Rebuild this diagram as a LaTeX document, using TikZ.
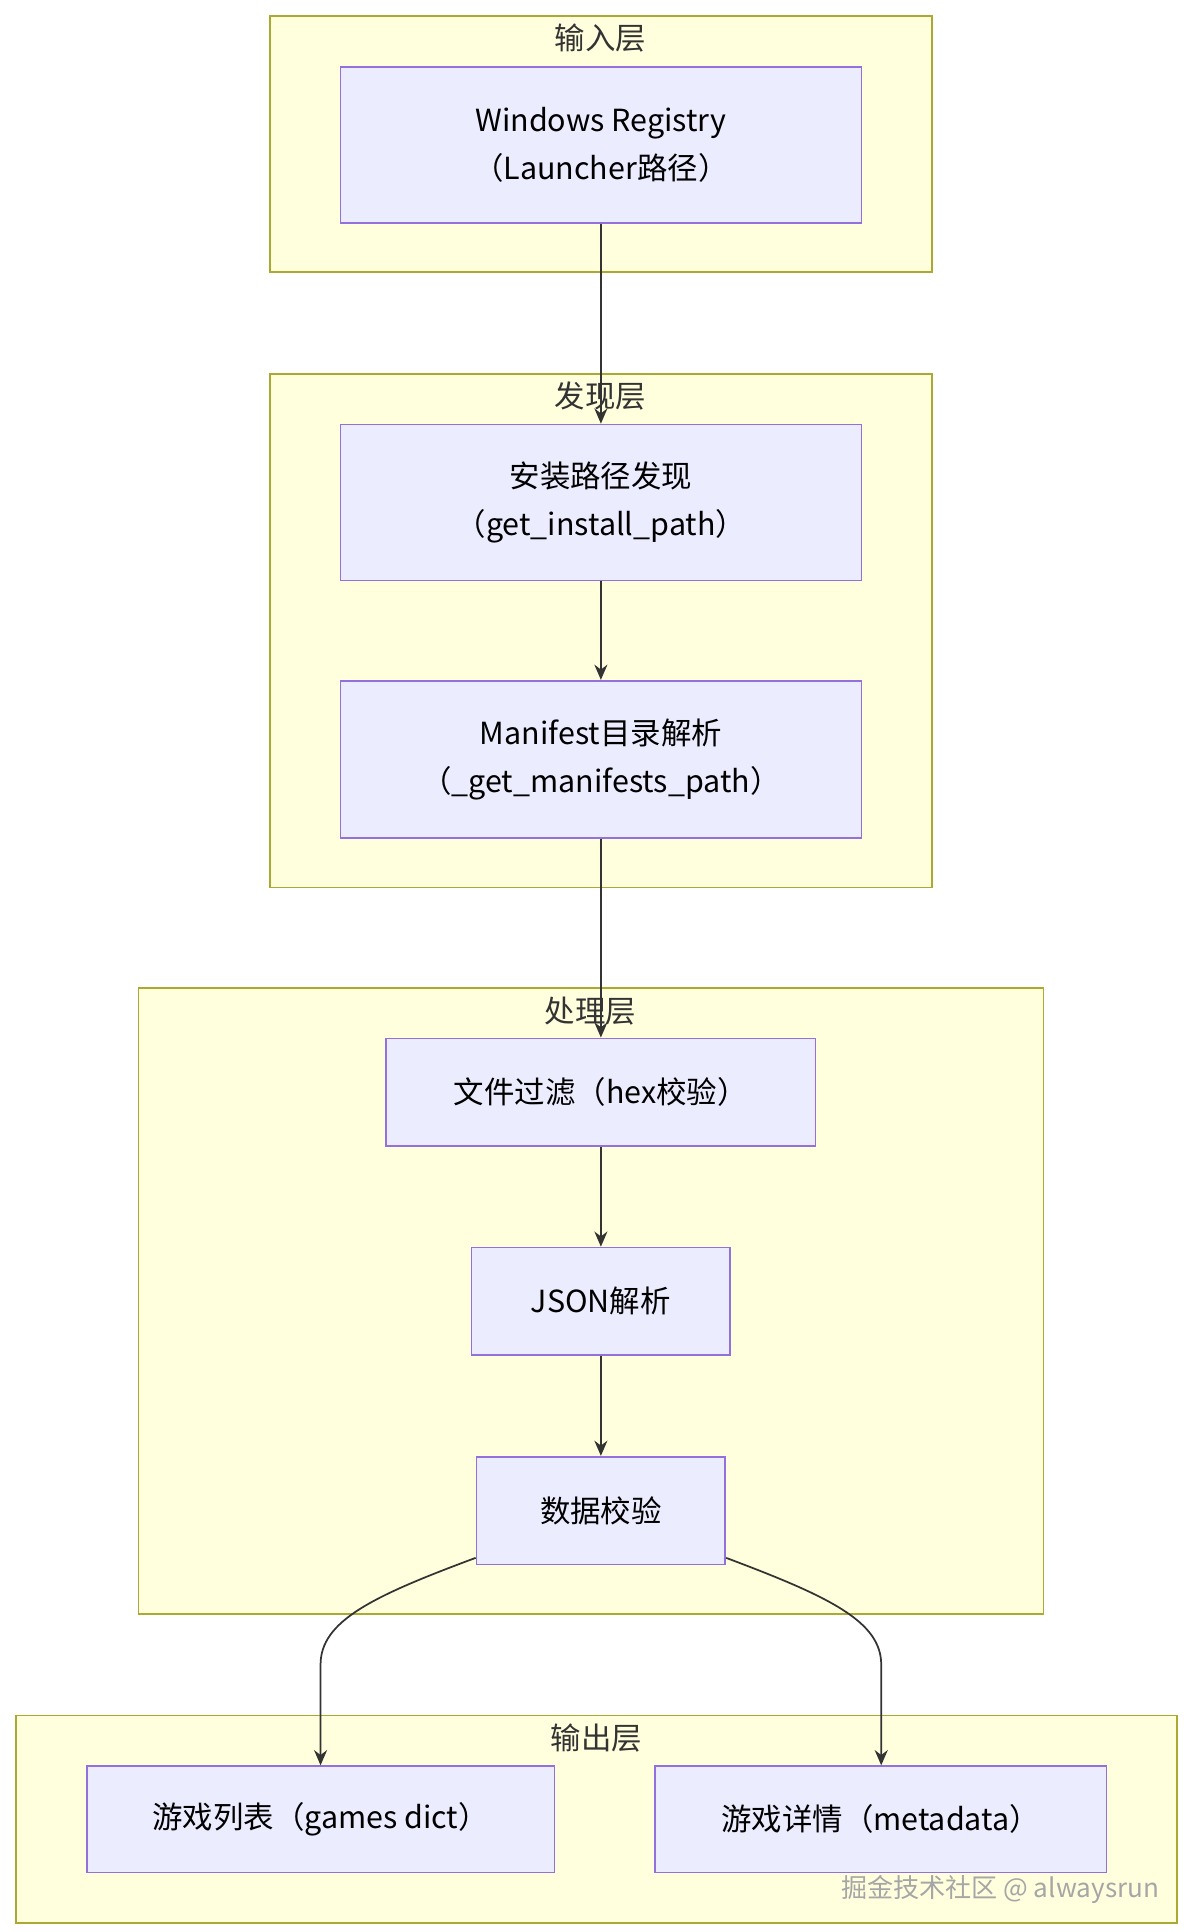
\documentclass[tikz,border=0pt]{standalone}
\usepackage{fontspec}
\setmainfont{Noto Sans CJK SC}
\usetikzlibrary{arrows.meta}
\definecolor{clfill}{HTML}{FFFFDE}
\definecolor{cldraw}{HTML}{AAAA33}
\definecolor{bxfill}{HTML}{ECECFF}
\definecolor{bxdraw}{HTML}{9370DB}
\definecolor{lnk}{HTML}{333333}
\tikzset{
  layer/.style={draw=cldraw,fill=clfill,line width=0.8pt},
  box/.style={draw=bxdraw,fill=bxfill,line width=0.8pt,align=center,inner sep=0pt,
    font=\fontsize{14}{22}\selectfont},
  ttl/.style={font=\fontsize{14}{16}\selectfont,text=lnk},
  flow/.style={draw=lnk,line width=0.8pt,-{Stealth[length=7pt,width=6pt]}}
}
\begin{document}
\begin{tikzpicture}[x=0.02cm,y=-0.02cm]
\useasboundingbox[fill=white] (0,0) rectangle (960,1561);
% layers
\draw[layer] (218,13) rectangle (753,220);
\draw[layer] (218,302) rectangle (753,717);
\draw[layer] (112,798) rectangle (843,1304);
\draw[layer] (13,1386) rectangle (951,1554);
\node[ttl] (tin) at (485,31) {输入层};
\node[ttl] (tfind) at (485,320) {发现层};
\node[ttl] (tproc) at (477,817) {处理层};
\node[ttl] (tout) at (482,1404) {输出层};
% nodes
\node[box,minimum width=8.42cm,minimum height=2.52cm] (reg) at (485.5,117) {Windows Registry\\（Launcher路径）};
\node[box,minimum width=8.42cm,minimum height=2.52cm] (inst) at (485.5,406) {安装路径发现\\（get\_install\_path）};
\node[box,minimum width=8.42cm,minimum height=2.54cm] (mani) at (485.5,613.5) {Manifest目录解析\\（\_get\_manifests\_path）};
\node[box,minimum width=6.94cm,minimum height=1.74cm] (filt) at (485.5,882.5) {文件过滤（hex校验）};
\node[box,minimum width=4.18cm,minimum height=1.74cm] (json) at (485.5,1051.5) {JSON解析};
\node[box,minimum width=4.02cm,minimum height=1.74cm] (chk) at (485.5,1220.5) {数据校验};
\node[box,minimum width=7.56cm,minimum height=1.72cm] (list) at (259,1470) {游戏列表（games dict）};
\node[box,minimum width=7.30cm,minimum height=1.72cm] (meta) at (711.5,1470) {游戏详情（metadata）};
% links
\draw[flow] (reg) -- (inst);
\draw[flow] (inst) -- (mani);
\draw[flow] (mani) -- (filt);
\draw[flow] (filt) -- (json);
\draw[flow] (json) -- (chk);
\draw[flow] (chk.south west) ++(0,-6) .. controls (300,1290) and (259,1310) .. (259,1345) -- (list.north -| 259,0);
\draw[flow] (chk.south east) ++(0,-6) .. controls (670,1290) and (712,1310) .. (712,1345) -- (meta.north -| 712,0);
\node[font=\fontsize{12}{13}\selectfont,text=gray!70] (wm) at (808,1527) {掘金技术社区 @ alwaysrun};
\end{tikzpicture}
\end{document}
